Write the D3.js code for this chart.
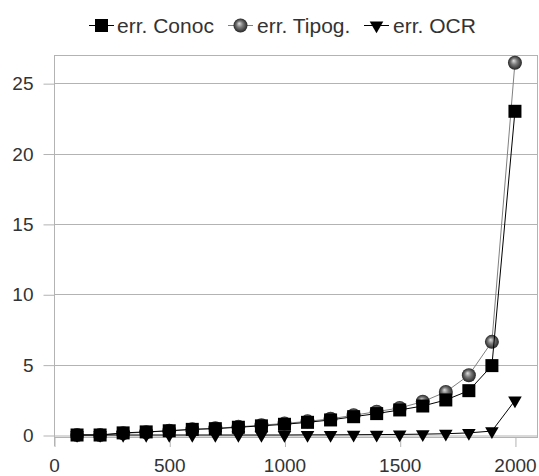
<!DOCTYPE html>
<html><head><meta charset="utf-8">
<script src="https://cdn.jsdelivr.net/npm/d3@7"></script>
<style>body{margin:0;background:#fff}svg{display:block}</style>
</head><body>
<svg id="c" width="539" height="476"></svg>
<script>
const xValues = [100,200,300,400,500,600,700,800,900,1000,1100,1200,1300,1400,1500,1600,1700,1800,1900,2000];
const errConoc = [0,0,0.15,0.22,0.3,0.4,0.45,0.55,0.65,0.76,0.9,1.07,1.3,1.52,1.78,2.06,2.49,3.15,4.93,23.0];
const errTipog = [0,0,0.12,0.2,0.3,0.4,0.48,0.58,0.7,0.82,0.97,1.15,1.4,1.66,1.92,2.37,3.06,4.25,6.62,26.45];
const errOCR   = [0,0,0,0,0,0,0,0,0,0,0.01,0.01,0.02,0.03,0.04,0.06,0.09,0.15,0.28,2.45];
const seriesNames = ["err. Conoc","err. Tipog.","err. OCR"];
const xTicks = [0,500,1000,1500,2000];
const yTicks = [0,5,10,15,20,25];

const svg = d3.select("#c");
const L=54, R=538, T=55, B=437;
const x = d3.scaleLinear().domain([0,2100]).range([L,R]);
const y = d3.scaleLinear().domain([0,27]).range([435,T]);
const grid="#b3b3b3", txt="#333", font="'Liberation Sans', Arial, sans-serif";

const defs = svg.append("defs");
const g = defs.append("radialGradient").attr("id","sph").attr("cx","50%").attr("cy","50%").attr("r","50%").attr("fx","40%").attr("fy","35%");
g.append("stop").attr("offset","0%").attr("stop-color","#e0e0e0");
g.append("stop").attr("offset","45%").attr("stop-color","#7a7a7a");
g.append("stop").attr("offset","100%").attr("stop-color","#262626");

// gridlines
svg.append("g").selectAll("line").data(yTicks.filter(d=>d>0)).join("line")
  .attr("x1",L).attr("x2",R).attr("y1",d=>Math.round(y(d))+0.5).attr("y2",d=>Math.round(y(d))+0.5)
  .attr("stroke",grid);
// frame
svg.append("rect").attr("x",L+0.5).attr("y",T+0.5).attr("width",R-L-1).attr("height",B-T).attr("fill","none").attr("stroke",grid);
// y axis
const ya = svg.append("g").attr("transform",`translate(${L+0.5},0)`).call(d3.axisLeft(y).tickValues(yTicks).tickSize(11).tickPadding(5));
ya.select(".domain").attr("d",`M0,${T}V446`).attr("stroke",grid);
ya.selectAll(".tick line").attr("stroke",grid).attr("x2",-11).attr("transform","translate(0,0.5)");
ya.selectAll(".tick line").filter(d=>d===0).attr("x2",R-L-1).attr("x1",-11);
ya.selectAll("text").attr("fill",txt).style("font-family",font).style("font-size","19px").attr("x",-21).attr("dy","0.35em");
// x axis
const xa = svg.append("g").attr("transform",`translate(0,${B})`).call(d3.axisBottom(x).tickValues(xTicks).tickFormat(d3.format("d")).tickSize(10).tickPadding(12));
xa.select(".domain").remove();
xa.selectAll(".tick line").attr("stroke",grid).attr("transform","translate(0.5,0)");
xa.selectAll("text").attr("fill",txt).style("font-family",font).style("font-size","19px");

const line = d3.line().x((d,i)=>x(xValues[i])).y(d=>y(d));
const tri = d3.symbol().type(d3.symbolTriangle).size(80);

function drawSeries(vals, color, kind){
  const gg = svg.append("g");
  gg.append("path").attr("d",line(vals)).attr("fill","none").attr("stroke",color).attr("stroke-width",1);
  const pts = gg.selectAll("g").data(vals).join("g").attr("transform",(d,i)=>`translate(${x(xValues[i])},${y(d)})`);
  marker(pts, kind);
}
function marker(sel, kind){
  if(kind==="sq") sel.append("rect").attr("x",-6.5).attr("y",-6.5).attr("width",13).attr("height",13).attr("fill","#000");
  else if(kind==="sph") sel.append("circle").attr("r",7).attr("fill","url(#sph)");
  else sel.append("path").attr("d",tri).attr("transform","rotate(180)").attr("fill","#000");
}
drawSeries(errTipog,"#808080","sph");
drawSeries(errOCR,"#000","tri");
drawSeries(errConoc,"#000","sq");

// legend
const leg = [
  {name:seriesNames[0], kind:"sq", color:"#000", lx:89, tx:117},
  {name:seriesNames[1], kind:"sph", color:"#808080", lx:228, tx:257},
  {name:seriesNames[2], kind:"tri", color:"#000", lx:364, tx:393}
];
const lg = svg.append("g");
leg.forEach(d=>{
  const gi = lg.append("g");
  gi.append("line").attr("x1",d.lx).attr("x2",d.lx+25).attr("y1",25.5).attr("y2",25.5).attr("stroke",d.color);
  marker(gi.append("g").attr("transform",`translate(${d.lx+12.5},25.5)`), d.kind);
  gi.append("text").attr("x",d.tx).attr("y",25.5).attr("dy","0.35em").text(d.name)
    .attr("fill",txt).style("font-family",font).style("font-size","21px");
});
</script>
</body></html>
